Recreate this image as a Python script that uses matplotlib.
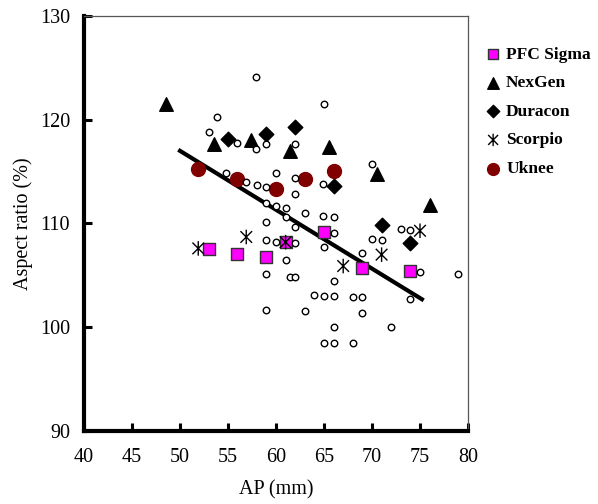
import numpy as np
import matplotlib
matplotlib.use('Agg')
import matplotlib.pyplot as plt
from matplotlib.path import Path

# implant groups: AP (mm) and aspect ratio (%)
pfc_ap = [53.0, 55.9, 59.0, 61.0, 65.0, 69.0, 74.0]
pfc_ratio = [107.5, 107.1, 106.8, 108.2, 109.2, 105.7, 105.4]

nexgen_ap = [48.5, 53.5, 57.4, 61.5, 65.5, 70.5, 76.0]
nexgen_ratio = [121.5, 117.7, 118.0, 117.0, 117.4, 114.8, 111.8]

duracon_ap = [55.0, 59.0, 62.0, 66.0, 71.0, 74.0]
duracon_ratio = [118.1, 118.6, 119.3, 113.6, 109.9, 108.1]

scorpio_ap = [51.9, 56.9, 61.0, 67.0, 71.0, 75.0]
scorpio_ratio = [107.6, 108.7, 108.2, 105.9, 107.0, 109.3]

uknee_ap = [51.9, 55.9, 60.0, 63.0, 66.0]
uknee_ratio = [115.3, 114.3, 113.3, 114.3, 115.1]

# measured knees (open circles)
knee_ap = [57.9, 65.0, 53.9, 53.0, 55.9, 57.9, 59.0, 62.0, 70.0, 54.8,
           56.9, 58.0, 59.0, 60.0, 62.0, 62.0, 64.9, 59.0, 60.0, 61.0,
           61.0, 63.0, 64.9, 66.0, 59.0, 62.0, 66.0, 59.0, 60.0, 62.0,
           65.0, 73.0, 74.0, 70.0, 71.0, 69.0, 61.0, 59.0, 61.5, 62.0,
           66.0, 75.0, 79.0, 74.0, 64.0, 65.0, 66.0, 68.0, 69.0, 59.0,
           63.0, 69.0, 66.0, 72.0, 65.0, 66.0, 68.0]
knee_ratio = [124.1, 121.5, 120.3, 118.8, 117.8, 117.2, 117.7, 117.7, 115.7, 114.9,
              114.0, 113.7, 113.5, 114.9, 114.4, 112.8, 113.8, 112.0, 111.7, 111.5,
              110.6, 111.0, 110.7, 110.6, 110.1, 109.7, 109.1, 108.4, 108.2, 108.1,
              107.7, 109.5, 109.4, 108.5, 108.4, 107.2, 106.5, 105.1, 104.8, 104.8,
              104.5, 105.3, 105.1, 102.7, 103.1, 103.0, 103.0, 102.9, 102.9, 101.7,
              101.6, 101.4, 100.0, 100.0, 98.45, 98.45, 98.5]

# trend line through the knees
trend_ap = [50.0, 75.2]
trend_ratio = [117.0, 102.7]

plt.rcParams['font.family'] = ['Liberation Serif', 'DejaVu Serif']

# asterisk: vertical bar plus an X
star = Path([(0, -1), (0, 1), (-0.8, -0.8), (0.8, 0.8), (-0.8, 0.8), (0.8, -0.8)],
            [Path.MOVETO, Path.LINETO, Path.MOVETO, Path.LINETO, Path.MOVETO, Path.LINETO])

fig = plt.figure(figsize=(5.98, 5.04), dpi=100)
ax = fig.add_axes([0.1405, 0.1448, 0.6421, 0.8235])

ax.plot(trend_ap, trend_ratio, color='black', lw=3, zorder=1)

ax.scatter(pfc_ap, pfc_ratio, marker='s', s=75, facecolor='#ff00ff',
           edgecolor='#333333', lw=1, zorder=3, label='PFC Sigma')
ax.scatter(nexgen_ap, nexgen_ratio, marker='^', s=95, color='black',
           zorder=3, label='NexGen')
ax.scatter(duracon_ap, duracon_ratio, marker='D', s=55, color='black',
           zorder=3, label='Duracon')
ax.scatter(scorpio_ap, scorpio_ratio, marker=star, s=110, facecolor='none',
           edgecolor='black', lw=1, zorder=4, label='Scorpio')
ax.scatter(uknee_ap, uknee_ratio, marker='o', s=100, color='#800000',
           zorder=3, label='Uknee')
ax.scatter(knee_ap, knee_ratio, marker='o', s=22, facecolor='white',
           edgecolor='black', lw=1, zorder=5)

ax.set_xlim(40, 80)
ax.set_ylim(90, 130)
ax.set_xticks(np.arange(40, 81, 5))
ax.set_yticks(np.arange(90, 131, 10))
ax.tick_params(direction='in', length=6, width=2.2, labelsize=14.5, color='black')
ax.tick_params(axis='x', pad=12)
ax.tick_params(axis='y', pad=10)

for side in ['left', 'bottom']:
    ax.spines[side].set_linewidth(3)
    ax.spines[side].set_color('black')
for side in ['top', 'right']:
    ax.spines[side].set_linewidth(0.9)
    ax.spines[side].set_color('#555555')

ax.set_xlabel('AP (mm)', fontsize=14.5, labelpad=10)
ax.set_ylabel('Aspect ratio (%)', fontsize=14.5, labelpad=5)

leg = fig.legend(loc='upper left', bbox_to_anchor=(0.813, 0.908), frameon=False,
                 prop={'weight': 'bold', 'size': 12.5}, handlelength=0.8,
                 handletextpad=0.35, labelspacing=0.72, markerscale=0.85,
                 borderaxespad=0, borderpad=0)

fig.savefig('out.png', dpi=100)
